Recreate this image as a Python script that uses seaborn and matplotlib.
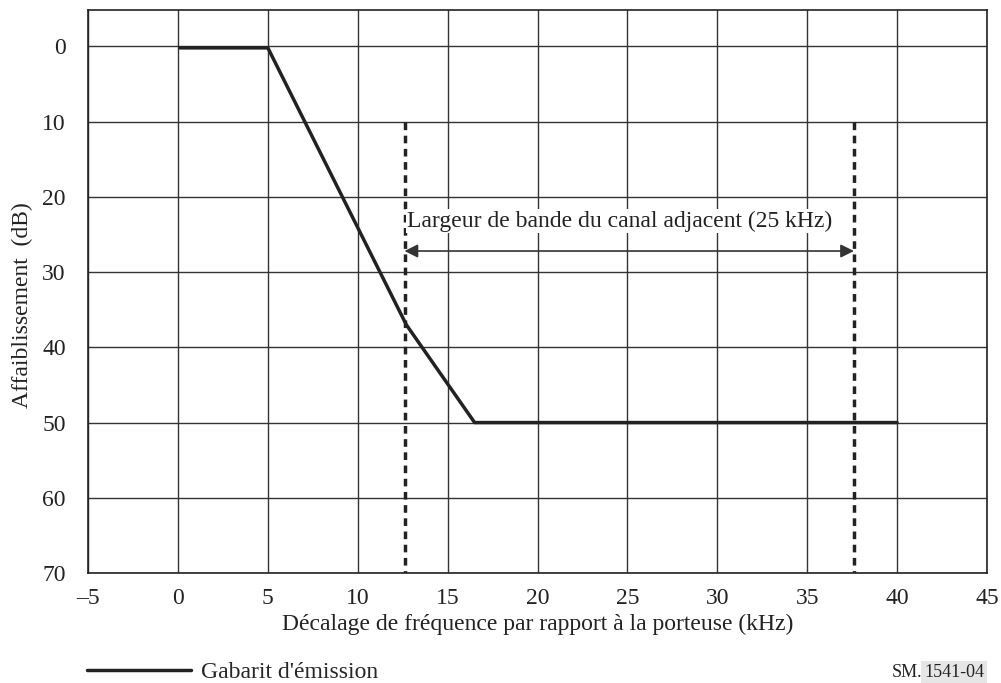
import pandas as pd
import matplotlib.pyplot as plt
import seaborn as sns

# Gabarit d'émission (points du masque)
freq = [0.1, 5.0, 12.7, 16.5, 40.0]
attn = [0.2, 0.2, 37.0, 50.0, 50.0]

# Limites du canal adjacent
canal_x = [12.6, 37.6]
canal_y = [10, 70]

x_ticks = [-5, 0, 5, 10, 15, 20, 25, 30, 35, 40, 45]
y_ticks = [0, 10, 20, 30, 40, 50, 60, 70]

df = pd.DataFrame({"freq": freq, "attn": attn})

sns.set_style("white")
plt.rcParams["font.family"] = ["Liberation Serif", "DejaVu Serif"]

fig = plt.figure(figsize=(10.01, 6.83), dpi=100)
ax = fig.add_axes([0.088, 0.161, 0.898, 0.824])

sns.lineplot(data=df, x="freq", y="attn", color="#222222", linewidth=2.5, ax=ax,
             label="Gabarit d'émission", legend=False)

for xc in canal_x:
    ax.plot([xc, xc], canal_y, color="#222222", linewidth=2.5, linestyle=(0, (2.2, 1.6)))

ax.annotate("", xy=(canal_x[0], 27.2), xytext=(canal_x[1], 27.2),
            arrowprops=dict(arrowstyle="<|-|>", color="#333333", lw=1.2,
                            mutation_scale=20, shrinkA=0, shrinkB=0))
ax.text(canal_x[0] + 0.15, 23.2, "Largeur de bande du canal adjacent (25 kHz)",
        fontsize=17, va="center", ha="left", color="#222222",
        bbox=dict(facecolor="white", edgecolor="none", pad=1))

ax.set_xlim(-5, 45)
ax.set_ylim(70, -4.8)
ax.set_xticks(x_ticks)
ax.set_xticklabels([str(t).replace("-", "\u2013") for t in x_ticks])
ax.set_yticks(y_ticks)
ax.tick_params(axis="x", length=0, labelsize=17, colors="#222222", pad=11)
ax.tick_params(axis="y", length=0, labelsize=17, colors="#222222", pad=16)
ax.grid(True, color="#333333", linewidth=1)
for s in ax.spines.values():
    s.set_color("#222222")
    s.set_linewidth(1.2)

ax.set_xlabel("Décalage de fréquence par rapport à la porteuse (kHz)", fontsize=17,
              color="#222222", labelpad=3)
ax.set_ylabel("Affaiblissement  (dB)", fontsize=17, color="#222222")
ax.yaxis.set_label_coords(-0.061, 0.476)

h, l = ax.get_legend_handles_labels()
fig.legend(h, l, loc="center left", bbox_to_anchor=(0.066, 0.016), frameon=False,
           fontsize=17, handlelength=4.4, handletextpad=0.4)

fig.text(0.891, 0.016, "SM.", fontsize=13, ha="left", va="center", color="#222222")
fig.text(0.923, 0.016, "1541-04", fontsize=13, ha="left", va="center", color="#222222",
         bbox=dict(facecolor="#e6e6e6", edgecolor="none", pad=2))

plt.savefig("out.png", dpi=100)
